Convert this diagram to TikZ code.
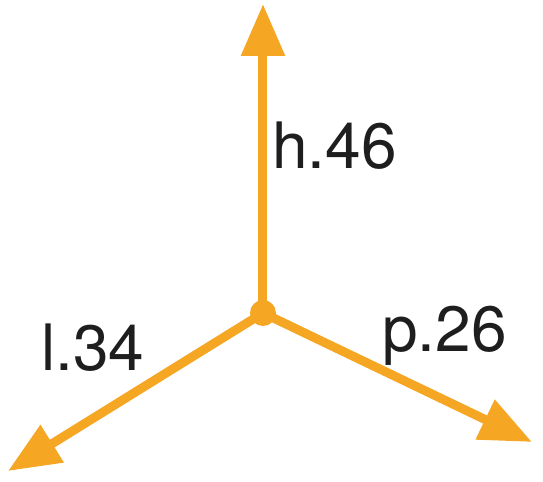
\documentclass[tikz,border=0pt]{standalone}
\usepackage{fontspec}
\setmainfont{TeX Gyre Heros}
\usetikzlibrary{arrows.meta}
\definecolor{axiscolor}{RGB}{245,166,35}
\definecolor{labelcolor}{RGB}{30,30,30}
\tikzset{
  axis/.style={draw=axiscolor,line width=4.5pt,-{Triangle[length=26pt,width=21pt]}},
  axislabel/.style={anchor=base west,inner sep=0pt,text=labelcolor,font=\fontsize{32pt}{32pt}\selectfont}
}

\begin{document}
\begin{tikzpicture}[x=0.5pt,y=-0.5pt]
  \useasboundingbox (0,0) rectangle (543,482);
  % Origin
  \coordinate (origin) at (263,313);
  \coordinate (htip) at (263,4);
  \coordinate (ltip) at (8,471);
  \coordinate (ptip) at (532,442);
  % Arrows
  \draw[axis] (origin) -- (htip);
  \draw[axis] (origin) -- (ltip);
  \draw[axis] (origin) -- (ptip);
  \fill[axiscolor] (origin) circle (6.5pt);
  % Labels
  \node[axislabel] at (272,169)(hlabel){h.46};
  \node[axislabel] at (41,371)(llabel){l.34};
  \node[axislabel] at (382,352)(plabel){p.26};
\end{tikzpicture}
\end{document}
